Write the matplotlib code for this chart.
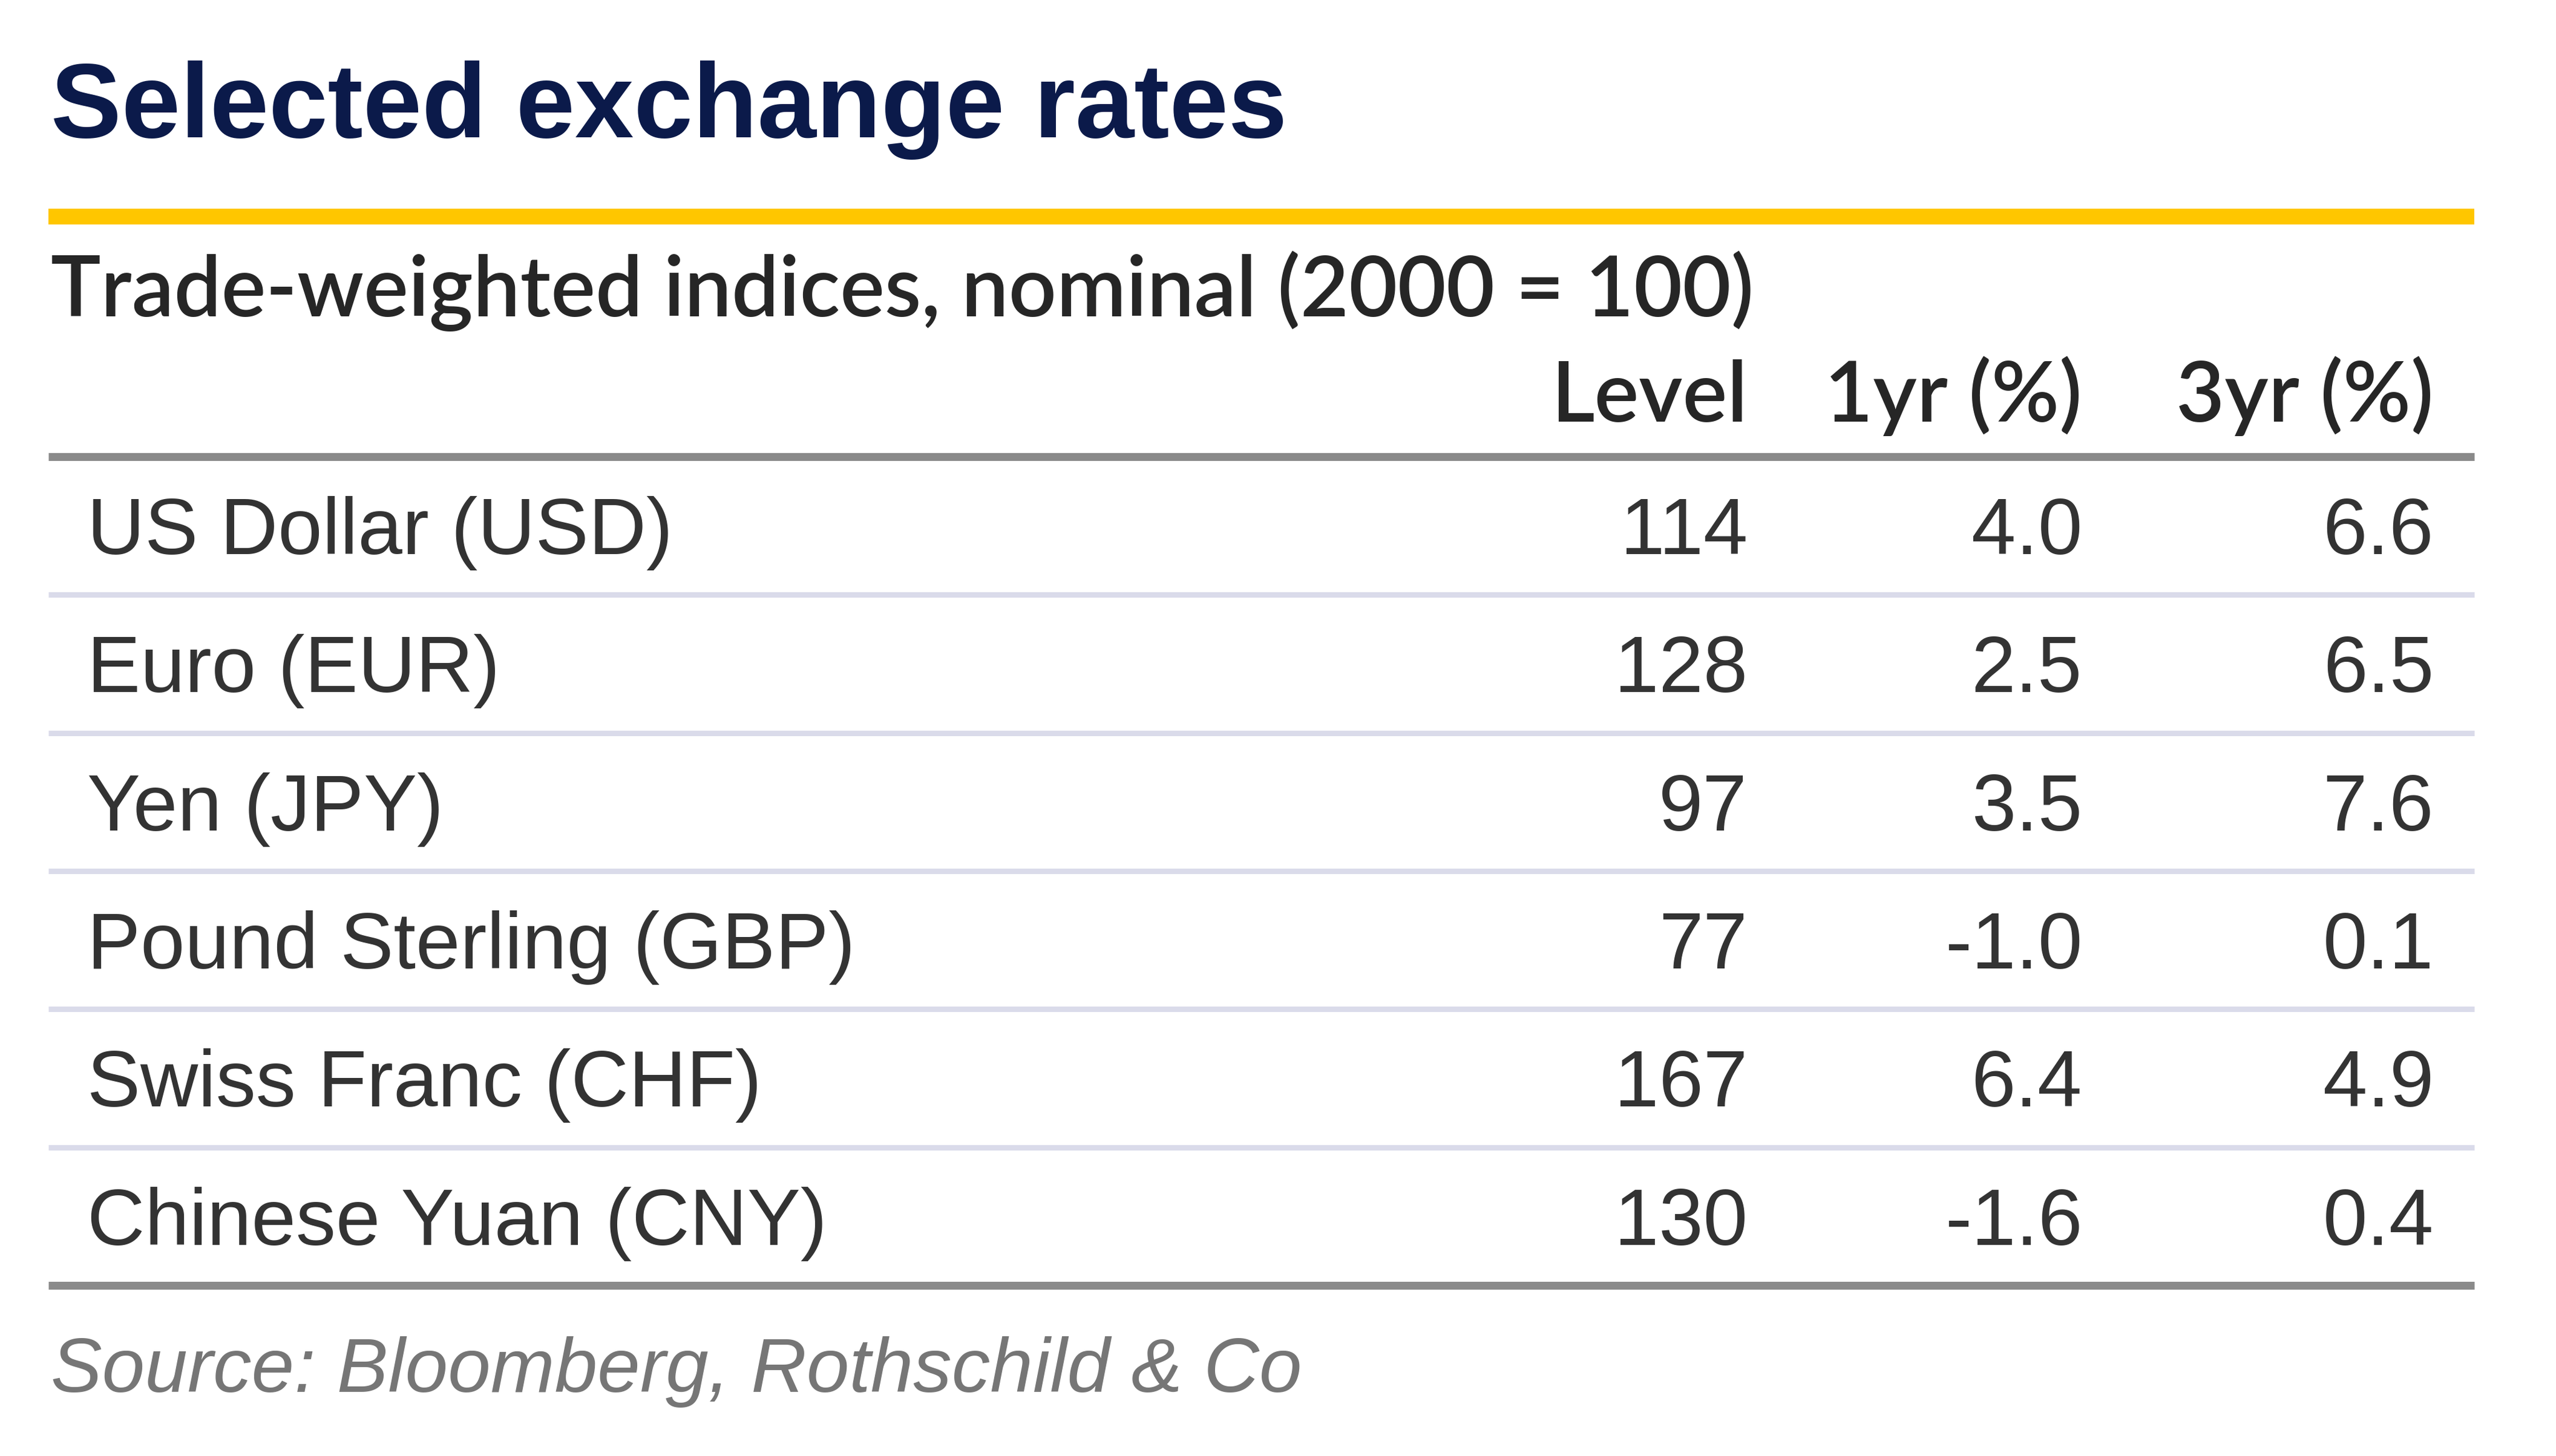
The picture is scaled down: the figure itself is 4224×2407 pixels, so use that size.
import matplotlib
matplotlib.use("Agg")
import matplotlib.pyplot as plt

title = "Selected exchange rates"
subtitle = "Trade-weighted indices, nominal (2000 = 100)"
source = "Source: Bloomberg, Rothschild & Co"
columns = ["Level", "1yr (%)", "3yr (%)"]
currencies = ["US Dollar (USD)", "Euro (EUR)", "Yen (JPY)",
              "Pound Sterling (GBP)", "Swiss Franc (CHF)", "Chinese Yuan (CNY)"]
level = [114, 128, 97, 77, 167, 130]
yr1 = [4.0, 2.5, 3.5, -1.0, 6.4, -1.6]
yr3 = [6.6, 6.5, 7.6, 0.1, 4.9, 0.4]

W, H, DPI = 4224, 2407, 100
fig = plt.figure(figsize=(W / DPI, H / DPI), dpi=DPI)
ax = fig.add_axes([0, 0, 1, 1])
ax.set_xlim(0, W)
ax.set_ylim(H, 0)
ax.axis("off")
renderer = fig.canvas.get_renderer()

FONT = "Liberation Sans"
SEMI = "Lato"
px2pt = 72 / DPI


def fit(t, target_w):
    bb = t.get_window_extent(renderer)
    t.set_fontsize(t.get_fontsize() * target_w / bb.width)


x0, x1 = 80, 4089
# title
t = ax.text(84, 227, title, fontsize=130, fontweight="bold", color="#0b1a4a",
            family=FONT, ha="left", va="baseline")
fit(t, 2042)
# yellow rule
ax.hlines(358, x0, x1, color="#FFC600", lw=26 * px2pt)
# subtitle
t = ax.text(84, 523, subtitle, fontsize=94, fontweight="semibold", color="#262626",
            family=SEMI, ha="left", va="baseline")
fit(t, 2813)
sub_fs = t.get_fontsize()

col_right = [2888, 3441, 4022]
for c, xr in zip(columns, col_right):
    ax.text(xr, 697, c, fontsize=sub_fs, fontweight="semibold", color="#262626",
            family=SEMI, ha="right", va="baseline")

top, pitch = 755, 228.3
ax.hlines(top, x0, x1, color="#8a8a8a", lw=13 * px2pt)
n = len(currencies)
for i in range(1, n):
    ax.hlines(top + pitch * i, x0, x1, color="#dadbea", lw=9 * px2pt)
ax.hlines(top + pitch * n, x0, x1, color="#8a8a8a", lw=13 * px2pt)

body_fs = 95
for i, name in enumerate(currencies):
    yb = top + pitch * (i + 0.5) + 47
    ax.text(144, yb, name, fontsize=body_fs, color="#333333", family=FONT,
            ha="left", va="baseline")
    vals = [f"{level[i]:d}", f"{yr1[i]:.1f}", f"{yr3[i]:.1f}"]
    for v, xr in zip(vals, col_right):
        ax.text(xr, yb, v, fontsize=body_fs, color="#333333", family=FONT,
                ha="right", va="baseline")

t = ax.text(84, 2301, source, fontsize=80, style="italic", color="#767676",
            family=FONT, ha="left", va="baseline")
fit(t, 2067)

fig.savefig("out.png", dpi=DPI, facecolor="white")
